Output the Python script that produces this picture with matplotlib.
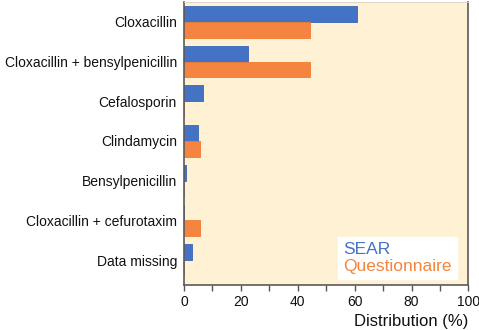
import matplotlib
matplotlib.use("Agg")
import matplotlib.pyplot as plt
import numpy as np
from matplotlib.patches import Patch

plt.rcParams['font.family'] = ['Liberation Sans', 'DejaVu Sans']

categories = [
    "Cloxacillin",
    "Cloxacillin + bensylpenicillin",
    "Cefalosporin",
    "Clindamycin",
    "Bensylpenicillin",
    "Cloxacillin + cefurotaxim",
    "Data missing",
]
sear = [61, 22.6, 6.6, 4.9, 0.6, 0, 3]
questionnaire = [44.2, 44.2, 0, 5.5, 0, 5.5, 0]

blue = '#4472c4'
orange = '#f4843f'
bg = '#fff1d3'

fig = plt.figure(figsize=(4.79, 3.3), dpi=100)
ax = fig.add_axes([0.384, 0.136, 0.594, 0.858])
ax.set_facecolor(bg)

y = np.arange(len(categories))
h = 0.4
ax.barh(y - h / 2, sear, height=h, color=blue, edgecolor='#3a66b8', linewidth=0.6)
ax.barh(y + h / 2, questionnaire, height=h, color=orange, edgecolor='#f07a30', linewidth=0.6)

ax.set_ylim(6.63, -0.5)
ax.set_yticks(y)
ax.set_yticklabels(categories, fontsize=10, color='#111111')
ax.tick_params(axis='y', length=0, pad=5)

ax.set_xlim(0, 100)
ax.set_xticks(np.arange(0, 101, 20))
ax.set_xticks(np.arange(10, 100, 20), minor=True)
ax.tick_params(axis='x', which='both', length=4, width=1, color='#555555',
               labelsize=10, labelcolor='#111111', pad=3)
ax.set_xlabel("Distribution (%)", fontsize=12, loc='right', labelpad=4, color='#111111')

for s in ax.spines.values():
    s.set_color('#5a5a5a')
    s.set_linewidth(1.2)
ax.spines['top'].set_color('#d8cfc0')
ax.spines['top'].set_linewidth(0.6)

handles = [Patch(visible=False), Patch(visible=False)]
leg = ax.legend(handles, ["SEAR", "Questionnaire"], loc='lower right',
                bbox_to_anchor=(0.96, 0.021), fontsize=12.5, handlelength=0,
                handletextpad=0, labelcolor=[blue, orange], frameon=True,
                fancybox=False, framealpha=1, edgecolor='white',
                labelspacing=0.1, borderpad=0.3, borderaxespad=0)
for t in leg.get_texts():
    t.set_ha('left')

fig.savefig("out.png", dpi=100)
